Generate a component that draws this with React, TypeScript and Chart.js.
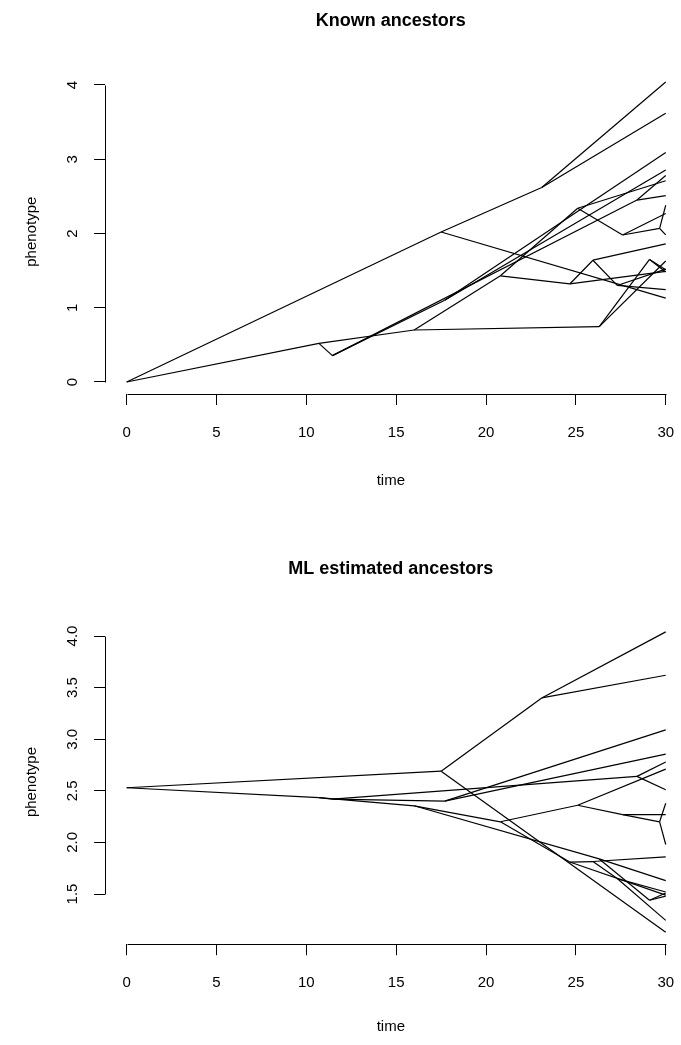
import React, { useEffect, useRef } from "react";
import { Chart, registerables } from "chart.js";

Chart.register(...registerables);

// Tree nodes: internal nodes first, then tips (all tips at time 30)
const nodeTime = [
  0, 10.7, 11.45, 16.0, 17.5, 23.1, 17.7, 28.4, 20.8, 25.1, 27.6, 29.66, 24.66, 25.95, 27.3, 26.3, 29.1,
  30, 30, 30, 30, 30, 30, 30, 30, 30, 30, 30, 30, 30, 30, 30, 30, 30, 30,
];
const knownValue = [
  0, 0.52, 0.355, 0.7, 2.02, 2.62, 1.1, 2.45, 1.43, 2.34, 1.98, 2.07, 1.32, 1.64, 1.3, 0.745, 1.65,
  4.04, 3.62, 3.09, 2.855, 2.78, 2.71, 2.51, 2.38, 2.27, 1.98, 1.86, 1.63, 1.51, 1.49, 1.245, 1.13, 1.48, 1.52,
];
const mlValue = [
  2.53, 2.435, 2.42, 2.355, 2.69, 3.4, 2.4, 2.64, 2.2, 2.36, 2.27, 2.2, 1.81, 1.815, 1.65, 1.84, 1.44,
  4.04, 3.62, 3.09, 2.855, 2.78, 2.71, 2.51, 2.38, 2.27, 1.98, 1.86, 1.63, 1.51, 1.49, 1.245, 1.13, 1.48, 1.52,
];
const parentIndex = [
  -1, 0, 1, 1, 0, 4, 2, 2, 3, 8, 9, 10, 8, 12, 13, 3, 15,
  5, 5, 6, 6, 7, 9, 7, 11, 10, 11, 13, 15, 16, 12, 14, 4, 16, 14,
];

const timeTicks = [0, 5, 10, 15, 20, 25, 30];
const timeTickLabels = ["0", "5", "10", "15", "20", "25", "30"];
const knownTicks = [0, 1, 2, 3, 4];
const knownTickLabels = ["0", "1", "2", "3", "4"];
const mlTicks = [1.5, 2, 2.5, 3, 3.5, 4];
const mlTickLabels = ["1.5", "2.0", "2.5", "3.0", "3.5", "4.0"];

const FONT = "'Liberation Sans', Arial, Helvetica, sans-serif";

const rAxisLines = {
  id: "rAxisLines",
  afterDraw(chart: any) {
    const { ctx, chartArea, scales } = chart;
    const x = scales.x;
    const y = scales.y;
    ctx.save();
    ctx.strokeStyle = "#000";
    ctx.lineWidth = 1;
    const yy = Math.round(chartArea.bottom) + 0.5;
    const xa = x.getPixelForValue(x.ticks[0].value);
    const xb = x.getPixelForValue(x.ticks[x.ticks.length - 1].value);
    ctx.beginPath();
    ctx.moveTo(Math.round(xa) + 0.5, yy);
    ctx.lineTo(Math.round(xb) + 0.5, yy);
    ctx.stroke();
    const xx = Math.round(chartArea.left) + 0.5;
    const ya = y.getPixelForValue(y.ticks[0].value);
    const yb = y.getPixelForValue(y.ticks[y.ticks.length - 1].value);
    ctx.beginPath();
    ctx.moveTo(xx, Math.round(ya) + 0.5);
    ctx.lineTo(xx, Math.round(yb) + 0.5);
    ctx.stroke();
    ctx.restore();
  },
};

type PanelCfg = {
  title: string;
  values: number[];
  yMin: number;
  yMax: number;
  yTicks: number[];
  yLabels: string[];
  yTickPad: number;
  titlePadTop: number;
  titlePadBottom: number;
  xScaleHeight: number;
  timePadBottom: number;
};

function buildConfig(cfg: PanelCfg): any {
  const datasets = parentIndex
    .map((p, i) =>
      p < 0
        ? null
        : {
            data: [
              { x: nodeTime[p], y: cfg.values[p] },
              { x: nodeTime[i], y: cfg.values[i] },
            ],
            showLine: true,
            borderColor: "#000",
            borderWidth: 1.2,
            pointRadius: 0,
            pointHoverRadius: 0,
            fill: false,
            tension: 0,
          }
    )
    .filter(Boolean);

  return {
    type: "scatter",
    data: { datasets },
    plugins: [rAxisLines],
    options: {
      responsive: false,
      animation: false,
      events: [],
      layout: { padding: { left: 0, right: 4.5, top: 0, bottom: 0 } },
      plugins: {
        legend: { display: false },
        tooltip: { enabled: false },
        title: {
          display: true,
          text: cfg.title,
          fullSize: false,
          color: "#000",
          font: { family: FONT, size: 18, weight: "bold", lineHeight: 1.2 },
          padding: { top: cfg.titlePadTop, bottom: cfg.titlePadBottom },
        },
      },
      scales: {
        x: {
          type: "linear",
          min: -1.2,
          max: 30.6,
          afterBuildTicks: (axis: any) => {
            axis.ticks = timeTicks.map((v) => ({ value: v }));
          },
          afterFit: (s: any) => {
            s.height = cfg.xScaleHeight;
            s.paddingLeft = 0;
            s.paddingRight = 0;
          },
          ticks: {
            autoSkip: false,
            maxRotation: 0,
            minRotation: 0,
            padding: 19,
            color: "#000",
            font: { family: FONT, size: 15 },
            callback: (_v: any, i: number) => timeTickLabels[i],
          },
          grid: { drawOnChartArea: false, drawTicks: true, tickLength: 11, color: "#000", lineWidth: 1 },
          border: { display: false },
          title: {
            display: true,
            text: "time",
            color: "#000",
            font: { family: FONT, size: 15, lineHeight: 1.2 },
            padding: { top: 0, bottom: cfg.timePadBottom },
          },
        },
        y: {
          type: "linear",
          min: cfg.yMin,
          max: cfg.yMax,
          afterBuildTicks: (axis: any) => {
            axis.ticks = cfg.yTicks.map((v) => ({ value: v }));
          },
          afterFit: (s: any) => {
            s.width = 105.1;
            s.paddingTop = 0;
            s.paddingBottom = 0;
          },
          ticks: {
            autoSkip: false,
            minRotation: 90,
            maxRotation: 90,
            crossAlign: "center",
            padding: cfg.yTickPad,
            color: "#000",
            font: { family: FONT, size: 15 },
            callback: (_v: any, i: number) => cfg.yLabels[i],
          },
          grid: { drawOnChartArea: false, drawTicks: true, tickLength: 11, color: "#000", lineWidth: 1 },
          border: { display: false },
          title: {
            display: true,
            text: "phenotype",
            color: "#000",
            font: { family: FONT, size: 15, lineHeight: 1.2 },
            padding: { top: 23, bottom: 0 },
          },
        },
      },
    },
  };
}

function Panel({ height, cfg }: { height: number; cfg: PanelCfg }) {
  const ref = useRef<HTMLCanvasElement>(null);
  useEffect(() => {
    if (!ref.current) return;
    const chart = new Chart(ref.current, buildConfig(cfg));
    return () => chart.destroy();
  }, []);
  return (
    <div style={{ position: "relative", width: 681, height }}>
      <canvas ref={ref} width={681} height={height} style={{ display: "block", width: 681, height }} />
    </div>
  );
}

const topCfg: PanelCfg = {
  title: "Known ancestors",
  values: knownValue,
  yMin: -0.162,
  yMax: 4.21,
  yTicks: knownTicks,
  yLabels: knownTickLabels,
  yTickPad: 16.9,
  titlePadTop: 10.2,
  titlePadBottom: 37.6,
  xScaleHeight: 154,
  timePadBottom: 58,
};

const bottomCfg: PanelCfg = {
  title: "ML estimated ancestors",
  values: mlValue,
  yMin: 1.014,
  yMax: 4.156,
  yTicks: mlTicks,
  yLabels: mlTickLabels,
  yTickPad: 10.7,
  titlePadTop: 10.2,
  titlePadBottom: 40.1,
  xScaleHeight: 100.8,
  timePadBottom: 9,
};

export default function App() {
  return (
    <div style={{ position: "absolute", left: 0, top: 0, width: 681, height: 1045, background: "#fff", overflow: "hidden" }}>
      <Panel height={548} cfg={topCfg} />
      <Panel height={497} cfg={bottomCfg} />
    </div>
  );
}
